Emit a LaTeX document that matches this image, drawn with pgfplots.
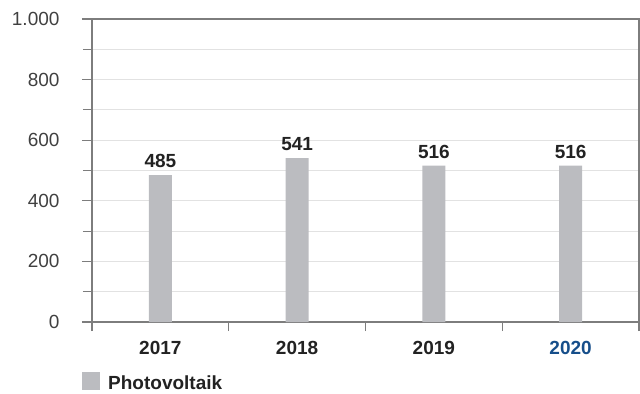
\documentclass[border=0pt]{standalone}
\usepackage{pgfplots}
\pgfplotsset{compat=1.18}
\usepackage{fontspec}
\setmainfont{Liberation Sans}
\definecolor{barcol}{RGB}{187,188,192}
\definecolor{blueyr}{RGB}{22,78,138}
\definecolor{gridc}{RGB}{226,226,226}
\definecolor{axc}{RGB}{125,125,125}
\definecolor{txt}{RGB}{34,34,34}
\begin{document}
\fontsize{19bp}{23bp}\selectfont
\begin{tikzpicture}
\useasboundingbox (-92bp,-72bp) rectangle (548bp,322bp);
\begin{axis}[
  at={(0,0)}, anchor=south west,
  scale only axis, width=547bp, height=303bp,
  xmin=0, xmax=4, ymin=0, ymax=1000,
  xtick={0.5,1.5,2.5,3.5},
  xticklabels={\textbf{2017},\textbf{2018},\textbf{2019},\textbf{\textcolor{blueyr}{2020}}},
  minor xtick={0,1,2,3,4},
  ytick={0,200,400,600,800,1000},
  yticklabels={0,200,400,600,800,1.000},
  minor ytick={100,300,500,700,900},
  ymajorgrids, yminorgrids,
  grid style={gridc, line width=1bp},
  minor grid style={gridc, line width=1bp},
  axis line style={axc, line width=1.3bp},
  tick align=outside,
  xtick pos=bottom, ytick pos=left,
  major tick length=10bp, minor tick length=9bp,
  every tick/.style={axc, line width=1.2bp},
  major x tick style={draw=none},
  tick label style={font=\fontsize{19bp}{23bp}\selectfont, text=txt},
  xticklabel style={yshift=-3bp},
  yticklabel style={text=black!75, xshift=-16bp},
  legend style={at={(axis description cs:-0.0183,-0.2405)}, anchor=south west, draw=none, fill=none, inner sep=0pt, font=\fontsize{19bp}{23bp}\selectfont\bfseries, text=txt},
  legend image code/.code={\fill[barcol] (0bp,-6bp) rectangle (18bp,12bp);},
  legend style={/tikz/every odd column/.append style={column sep=6bp}},
]
\addplot[ybar, bar width=23bp, fill=barcol, draw=none,
  nodes near coords,
  /pgf/number format/assume math mode=true,
  every node near coord/.style={anchor=south, inner sep=0pt, yshift=7bp, font=\fontsize{19bp}{23bp}\selectfont\bfseries, text=txt}]
  coordinates {(0.5,485) (1.5,541) (2.5,516) (3.5,516)};
\addlegendentry{Photovoltaik}
\end{axis}
\end{tikzpicture}
\end{document}
